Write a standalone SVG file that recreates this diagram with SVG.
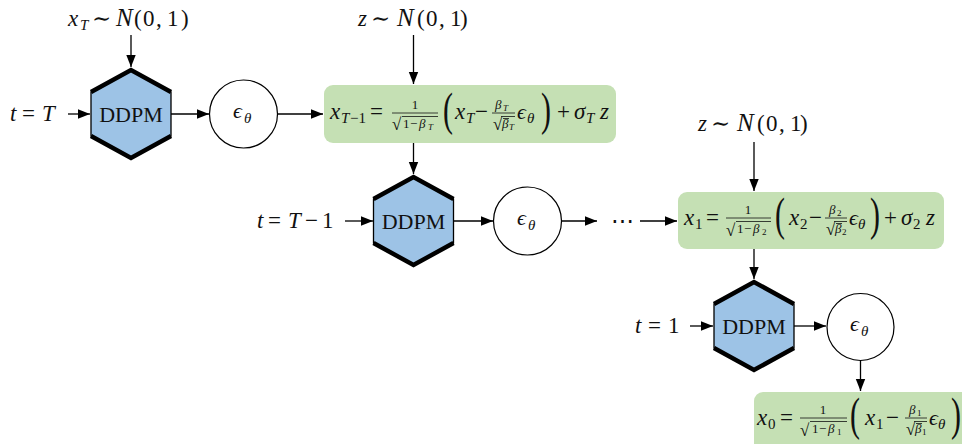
<svg xmlns="http://www.w3.org/2000/svg" width="962" height="444" viewBox="0 0 962 444">
<defs>
<marker id="ah" markerWidth="13" markerHeight="11" refX="12" refY="5" orient="auto" markerUnits="userSpaceOnUse"><path d="M0,0.3 L12,5 L0,9.7 z" fill="#000"/></marker>
</defs>
<style>
text{font-family:"Liberation Serif","DejaVu Serif",serif;fill:#111}
.m{font-size:23px}
.i{font-style:italic}
.s{font-size:15px}
.f{font-size:13px}
.t{font-size:9px}
.rad{font-size:17px}
.big{font-size:46px}
.cal{font-size:25px;font-style:italic}
.eps{font-size:22px;font-style:italic}
.hex{fill:#9dc3e6;stroke:#000;stroke-width:1.3}
.hexb{fill:none;stroke:#000;stroke-width:4.5}
.circ{fill:#fff;stroke:#000;stroke-width:1.2}
.box{fill:#c5e0b4}
.rule{stroke:#111;stroke-width:0.8}
.conn line{stroke:#000;stroke-width:1.3;marker-end:url(#ah)}
.dd{font-size:22px}
</style>
<rect width="962" height="444" fill="#fff"/>

<g id="connectors" class="conn">
<line x1="131" y1="35" x2="131" y2="67"/>
<line x1="68" y1="114" x2="90" y2="114"/>
<line x1="171" y1="114" x2="209" y2="114"/>
<line x1="278" y1="114" x2="323" y2="114"/>
<line x1="413.5" y1="35" x2="413.5" y2="84"/>
<line x1="413.5" y1="143" x2="413.5" y2="174"/>
<line x1="345" y1="221" x2="373" y2="221"/>
<line x1="453.5" y1="221" x2="493" y2="221"/>
<line x1="562" y1="221" x2="597" y2="221"/>
<line x1="640" y1="221" x2="677" y2="221"/>
<line x1="754" y1="142" x2="754" y2="191"/>
<line x1="754" y1="249" x2="754" y2="279"/>
<line x1="690" y1="326" x2="713" y2="326"/>
<line x1="794" y1="326" x2="826" y2="326"/>
<line x1="860.5" y1="361" x2="860.5" y2="391"/>
</g>

<g id="label-xT">
<text class="m i" x="68" y="26">x</text><text class="s i" x="80" y="30">T</text>
<text class="m" x="92" y="26">∼</text>
<text class="cal" x="116" y="26">N</text>
<text class="m" y="26"><tspan x="134">(</tspan><tspan x="143">0</tspan><tspan x="156">,</tspan><tspan x="167">1</tspan><tspan x="181">)</tspan></text>
</g>

<g id="label-z1">
<text class="m i" x="358" y="25.5">z</text>
<text class="m" x="371" y="25.5">∼</text>
<text class="cal" x="397" y="25.5">N</text>
<text class="m" y="25.5"><tspan x="417">(</tspan><tspan x="426">0</tspan><tspan x="439">,</tspan><tspan x="450">1</tspan><tspan x="460">)</tspan></text>
</g>

<g id="label-z2">
<text class="m i" x="698" y="131">z</text>
<text class="m" x="711" y="131">∼</text>
<text class="cal" x="737" y="131">N</text>
<text class="m" y="131"><tspan x="757">(</tspan><tspan x="766">0</tspan><tspan x="779">,</tspan><tspan x="790">1</tspan><tspan x="800">)</tspan></text>
</g>

<g id="t-T"><text class="m" y="121"><tspan x="10" class="i">t</tspan><tspan x="22">=</tspan><tspan x="42" class="i">T</tspan></text></g>
<g id="t-T1"><text class="m" y="228"><tspan x="257" class="i">t</tspan><tspan x="268">=</tspan><tspan x="288" class="i">T</tspan><tspan x="305">−</tspan><tspan x="322">1</tspan></text></g>
<g id="t-1"><text class="m" y="333"><tspan x="635" class="i">t</tspan><tspan x="648">=</tspan><tspan x="668">1</tspan></text></g>

<g id="ddpm1">
<polygon class="hex" points="131,70 171,92 171,136 131,158 91,136 91,92"/>
<path class="hexb" d="M91,92 L131,70 L171,92 M91,136 L131,158 L171,136"/>
<text class="dd" x="131" y="122" text-anchor="middle">DDPM</text>
</g>
<g id="ddpm2">
<polygon class="hex" points="413.5,177 453.5,199 453.5,243 413.5,265 373.5,243 373.5,199"/>
<path class="hexb" d="M373.5,199 L413.5,177 L453.5,199 M373.5,243 L413.5,265 L453.5,243"/>
<text class="dd" x="413.5" y="229" text-anchor="middle">DDPM</text>
</g>
<g id="ddpm3">
<polygon class="hex" points="754,282 794,304 794,348 754,370 714,348 714,304"/>
<path class="hexb" d="M714,304 L754,282 L794,304 M714,348 L754,370 L794,348"/>
<text class="dd" x="754" y="334" text-anchor="middle">DDPM</text>
</g>

<g id="eps1">
<circle class="circ" cx="243.5" cy="114" r="34"/>
<text class="eps" x="233" y="118">ϵ</text><text class="s i" x="244" y="123">θ</text>
</g>
<g id="eps2">
<circle class="circ" cx="527.5" cy="221" r="34"/>
<text class="eps" x="517" y="225">ϵ</text><text class="s i" x="528" y="230">θ</text>
</g>
<g id="eps3">
<circle class="circ" cx="860.5" cy="327" r="33.5"/>
<text class="eps" x="850" y="331">ϵ</text><text class="s i" x="861" y="336">θ</text>
</g>

<g id="dots"><text class="m" x="622" y="228" text-anchor="middle">⋯</text></g>

<g id="eq1">
<rect class="box" x="324" y="85" width="292" height="58" rx="9"/>
<text class="m i" x="330" y="119">x</text>
<text class="s" y="123"><tspan x="341" class="i">T</tspan><tspan x="350">−1</tspan></text>
<text class="m" x="370" y="119">=</text>
<line class="rule" x1="392" y1="113" x2="438" y2="113"/>
<text class="f" x="415" y="109" text-anchor="middle">1</text>
<text class="rad" x="392" y="130">√</text>
<line class="rule" x1="402" y1="116.5" x2="438" y2="116.5"/>
<text class="f" y="128"><tspan x="403">1</tspan><tspan x="410">−</tspan><tspan x="419" class="i">β</tspan></text>
<text class="t i" x="428" y="130">T</text>
<text class="big" transform="translate(443,124.5) scale(0.65,1)">(</text>
<text class="m i" x="455" y="119">x</text><text class="s i" x="466" y="123">T</text>
<text class="m" x="475" y="119">−</text>
<line class="rule" x1="492" y1="113" x2="515" y2="113"/>
<text class="f i" x="495" y="109">β</text><text class="t i" x="503" y="111">T</text>
<text class="rad" x="493" y="130">√</text>
<line class="rule" x1="501" y1="116.5" x2="515" y2="116.5"/>
<line class="rule" x1="503" y1="118.5" x2="509" y2="118.5"/>
<text class="f i" x="502" y="128">β</text><text class="t i" x="509" y="130">T</text>
<text class="eps" x="517" y="119">ϵ</text><text class="s i" x="527" y="123">θ</text>
<text class="big" transform="translate(541,124.5) scale(0.65,1)">)</text>
<text class="m" x="557" y="119">+</text>
<text class="m i" x="574" y="119">σ</text><text class="s i" x="586" y="123">T</text>
<text class="m i" x="600" y="119">z</text>
</g>

<g id="eq2">
<rect class="box" x="678" y="192" width="266" height="57" rx="9"/>
<text class="m i" x="684" y="225">x</text><text class="s" x="695" y="229">1</text>
<text class="m" x="706" y="225">=</text>
<line class="rule" x1="726" y1="218" x2="771" y2="218"/>
<text class="f" x="748" y="214" text-anchor="middle">1</text>
<text class="rad" x="726" y="236">√</text>
<line class="rule" x1="736" y1="221.5" x2="771" y2="221.5"/>
<text class="f" y="233"><tspan x="737">1</tspan><tspan x="744">−</tspan><tspan x="753" class="i">β</tspan></text>
<text class="t" x="762" y="235">2</text>
<text class="big" transform="translate(775,229.5) scale(0.65,1)">(</text>
<text class="m i" x="789" y="225">x</text><text class="s" x="800" y="229">2</text>
<text class="m" x="809" y="225">−</text>
<line class="rule" x1="825" y1="218" x2="847" y2="218"/>
<text class="f i" x="829" y="214">β</text><text class="t" x="837" y="216">2</text>
<text class="rad" x="826" y="235">√</text>
<line class="rule" x1="834" y1="221.5" x2="847" y2="221.5"/>
<line class="rule" x1="836" y1="223.5" x2="842" y2="223.5"/>
<text class="f i" x="835" y="233">β</text><text class="t" x="842" y="235">2</text>
<text class="eps" x="849" y="225">ϵ</text><text class="s i" x="858" y="229">θ</text>
<text class="big" transform="translate(870,229.5) scale(0.65,1)">)</text>
<text class="m" x="884" y="225">+</text>
<text class="m i" x="901" y="225">σ</text><text class="s" x="913" y="229">2</text>
<text class="m i" x="926" y="225">z</text>
</g>

<g id="eq3">
<rect class="box" x="754" y="392" width="220" height="70" rx="9"/>
<text class="m i" x="757" y="425">x</text><text class="s" x="768" y="429">0</text>
<text class="m" x="780" y="425">=</text>
<line class="rule" x1="800" y1="418" x2="847" y2="418"/>
<text class="f" x="823" y="414" text-anchor="middle">1</text>
<text class="rad" x="800" y="436">√</text>
<line class="rule" x1="810" y1="421.5" x2="847" y2="421.5"/>
<text class="f" y="433"><tspan x="812">1</tspan><tspan x="819">−</tspan><tspan x="828" class="i">β</tspan></text>
<text class="t" x="837" y="435">1</text>
<text class="big" transform="translate(850,429.5) scale(0.65,1)">(</text>
<text class="m i" x="865" y="425">x</text><text class="s" x="876" y="429">1</text>
<text class="m" x="886" y="425">−</text>
<line class="rule" x1="905" y1="418" x2="927" y2="418"/>
<text class="f i" x="909" y="414">β</text><text class="t" x="917" y="416">1</text>
<text class="rad" x="906" y="435">√</text>
<line class="rule" x1="914" y1="421.5" x2="927" y2="421.5"/>
<line class="rule" x1="916" y1="423.5" x2="922" y2="423.5"/>
<text class="f i" x="915" y="433">β</text><text class="t" x="922" y="435">1</text>
<text class="eps" x="929" y="425">ϵ</text><text class="s i" x="938" y="429">θ</text>
<text class="big" transform="translate(951,429.5) scale(0.65,1)">)</text>
</g>
</svg>
